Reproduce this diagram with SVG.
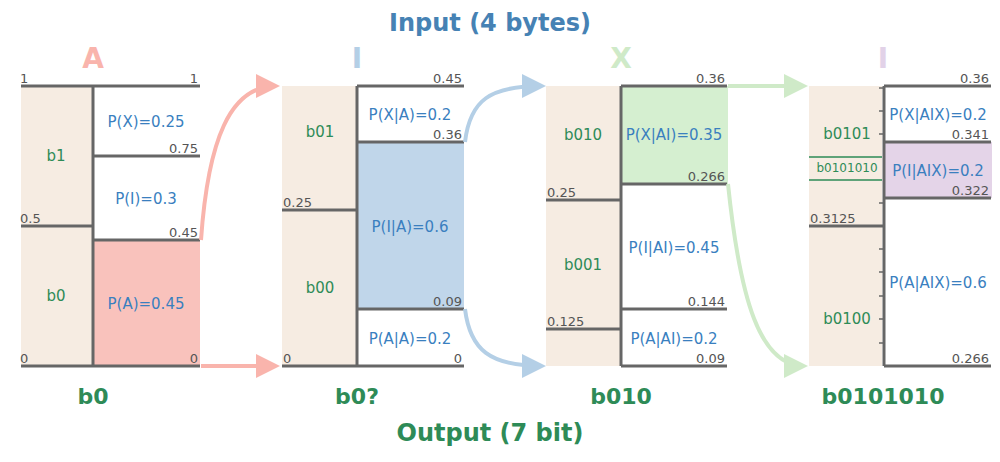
<svg xmlns="http://www.w3.org/2000/svg" width="1000" height="462" viewBox="0 0 1000 462">
<style>
text{font-family:"DejaVu Sans",sans-serif}
.bg{fill:#f6ece2}
.ln{stroke:#666;stroke-width:3;fill:none}
.tk{stroke:#666;stroke-width:1.5}
.num{font-size:13px;fill:#555}
.p{font-size:15px;fill:#3a7fbf;text-anchor:middle}
.b{font-size:15px;fill:#2e8b57;text-anchor:middle}
.hd{font-size:28px;font-weight:bold;text-anchor:middle}
.out{font-size:22px;font-weight:bold;fill:#2e8b57;text-anchor:middle}
.r{text-anchor:end}
</style>
<defs>
<marker id="mr" markerWidth="6" markerHeight="6" refX="5" refY="3" orient="auto"><path d="M0,0L6,3L0,6z" fill="#f9b4ac"/></marker>
<marker id="mb" markerWidth="6" markerHeight="6" refX="5" refY="3" orient="auto"><path d="M0,0L6,3L0,6z" fill="#b4cfe6"/></marker>
<marker id="mg" markerWidth="6" markerHeight="6" refX="5" refY="3" orient="auto"><path d="M0,0L6,3L0,6z" fill="#cfeac8"/></marker>
</defs>
<text x="490" y="31" font-size="24" font-weight="bold" fill="#4682b4" text-anchor="middle">Input (4 bytes)</text>
<text x="490" y="441" font-size="24" font-weight="bold" fill="#2e8b57" text-anchor="middle">Output (7 bit)</text>
<text class="hd" x="93" y="68" fill="#f9b4ac">A</text>
<text class="hd" x="357" y="68" fill="#b4cfe6">I</text>
<text class="hd" x="621" y="68" fill="#cfeac8">X</text>
<text class="hd" x="883" y="68" fill="#e2d2e8">I</text>
<g id="panel1">
<rect class="bg" x="21" y="86" width="72" height="280"/>
<rect x="93" y="240" width="107" height="126" fill="#f9c2bc"/>
<path class="ln" d="M21,86H200M93,86V366M93,156H200M93,240H200M21,226H93M21,366H200"/>
<text class="num" x="20" y="83">1</text><text class="num r" x="198" y="83">1</text>
<text class="num r" x="198" y="153">0.75</text><text class="num r" x="198" y="237">0.45</text>
<text class="num" x="20" y="223">0.5</text><text class="num" x="20" y="363">0</text><text class="num r" x="198" y="363">0</text>
<text class="b" x="56" y="161">b1</text><text class="b" x="56" y="301">b0</text>
<text class="p" x="146" y="127">P(X)=0.25</text><text class="p" x="146" y="204">P(I)=0.3</text><text class="p" x="146" y="309">P(A)=0.45</text>
<text class="out" x="93" y="404">b0</text>
</g>
<g id="panel2">
<rect class="bg" x="282" y="86" width="75" height="280"/>
<rect x="357" y="142" width="107" height="167" fill="#c0d6ea"/>
<path class="ln" d="M357,86H464M357,86V366M357,142H464M357,309H464M282,210H357M282,366H464"/>
<text class="num r" x="462" y="83">0.45</text><text class="num r" x="462" y="139">0.36</text>
<text class="num r" x="462" y="306">0.09</text><text class="num" x="283" y="207">0.25</text>
<text class="num" x="283" y="363">0</text><text class="num r" x="462" y="363">0</text>
<text class="b" x="320" y="137">b01</text><text class="b" x="320" y="293">b00</text>
<text class="p" x="410" y="120">P(X|A)=0.2</text><text class="p" x="410" y="232">P(I|A)=0.6</text><text class="p" x="410" y="344">P(A|A)=0.2</text>
<text class="out" x="357" y="404">b0?</text>
</g>
<g id="panel3">
<rect class="bg" x="546" y="86" width="75" height="280"/>
<rect x="621" y="86" width="107" height="98" fill="#d5efd0"/>
<path class="ln" d="M621,86H727M621,86V366M621,184H727M621,309H727M546,200H621M546,329H621M621,366H727"/>
<text class="num r" x="725" y="83">0.36</text><text class="num r" x="725" y="181">0.266</text>
<text class="num r" x="725" y="306">0.144</text><text class="num r" x="725" y="363">0.09</text>
<text class="num" x="547" y="197">0.25</text><text class="num" x="547" y="326">0.125</text>
<text class="b" x="583" y="140">b010</text><text class="b" x="583" y="270">b001</text>
<text class="p" x="674" y="140">P(X|AI)=0.35</text><text class="p" x="674" y="253">P(I|AI)=0.45</text><text class="p" x="674" y="344">P(A|AI)=0.2</text>
<text class="out" x="621" y="404">b010</text>
</g>
<g id="panel4">
<rect class="bg" x="809" y="86" width="73" height="280"/>
<rect x="884" y="142" width="108" height="56" fill="#e4d4e8"/>
<path class="ln" d="M884,86H991M884,86V366M884,142H991M884,198H991M809,226H884M884,366H991"/>
<path d="M809,157H882M809,180H882" stroke="#2e8b57" stroke-width="1.5"/>
<path class="tk" d="M879,88h4M879,111h4M879,134h4M879,203h4M879,249h4M879,272h4M879,296h4M879,319h4M879,343h4"/>
<text class="num r" x="989" y="83">0.36</text><text class="num r" x="989" y="139">0.341</text>
<text class="num r" x="989" y="195">0.322</text><text class="num r" x="989" y="363">0.266</text>
<text class="num" x="810" y="223">0.3125</text>
<text class="b" x="847" y="139">b0101</text>
<text x="847" y="172" font-size="12" fill="#2e8b57" text-anchor="middle">b0101010</text>
<text class="b" x="847" y="324">b0100</text>
<text class="p" x="938" y="120">P(X|AIX)=0.2</text><text class="p" x="938" y="176">P(I|AIX)=0.2</text><text class="p" x="938" y="288">P(A|AIX)=0.6</text>
<text class="out" x="883" y="404">b0101010</text>
</g>
<g id="connectors" fill="none" stroke-width="4">
<path d="M201,240C208,140 230,86 276,86" stroke="#f9b4ac" marker-end="url(#mr)"/>
<path d="M201,366H276" stroke="#f9b4ac" marker-end="url(#mr)"/>
<path d="M465,142C470,100 490,86 542,86" stroke="#b4cfe6" marker-end="url(#mb)"/>
<path d="M465,309C470,350 490,366 542,366" stroke="#b4cfe6" marker-end="url(#mb)"/>
<path d="M728,86H804" stroke="#cfeac8" marker-end="url(#mg)"/>
<path d="M728,184C740,300 760,366 804,366" stroke="#cfeac8" marker-end="url(#mg)"/>
</g>
</svg>
